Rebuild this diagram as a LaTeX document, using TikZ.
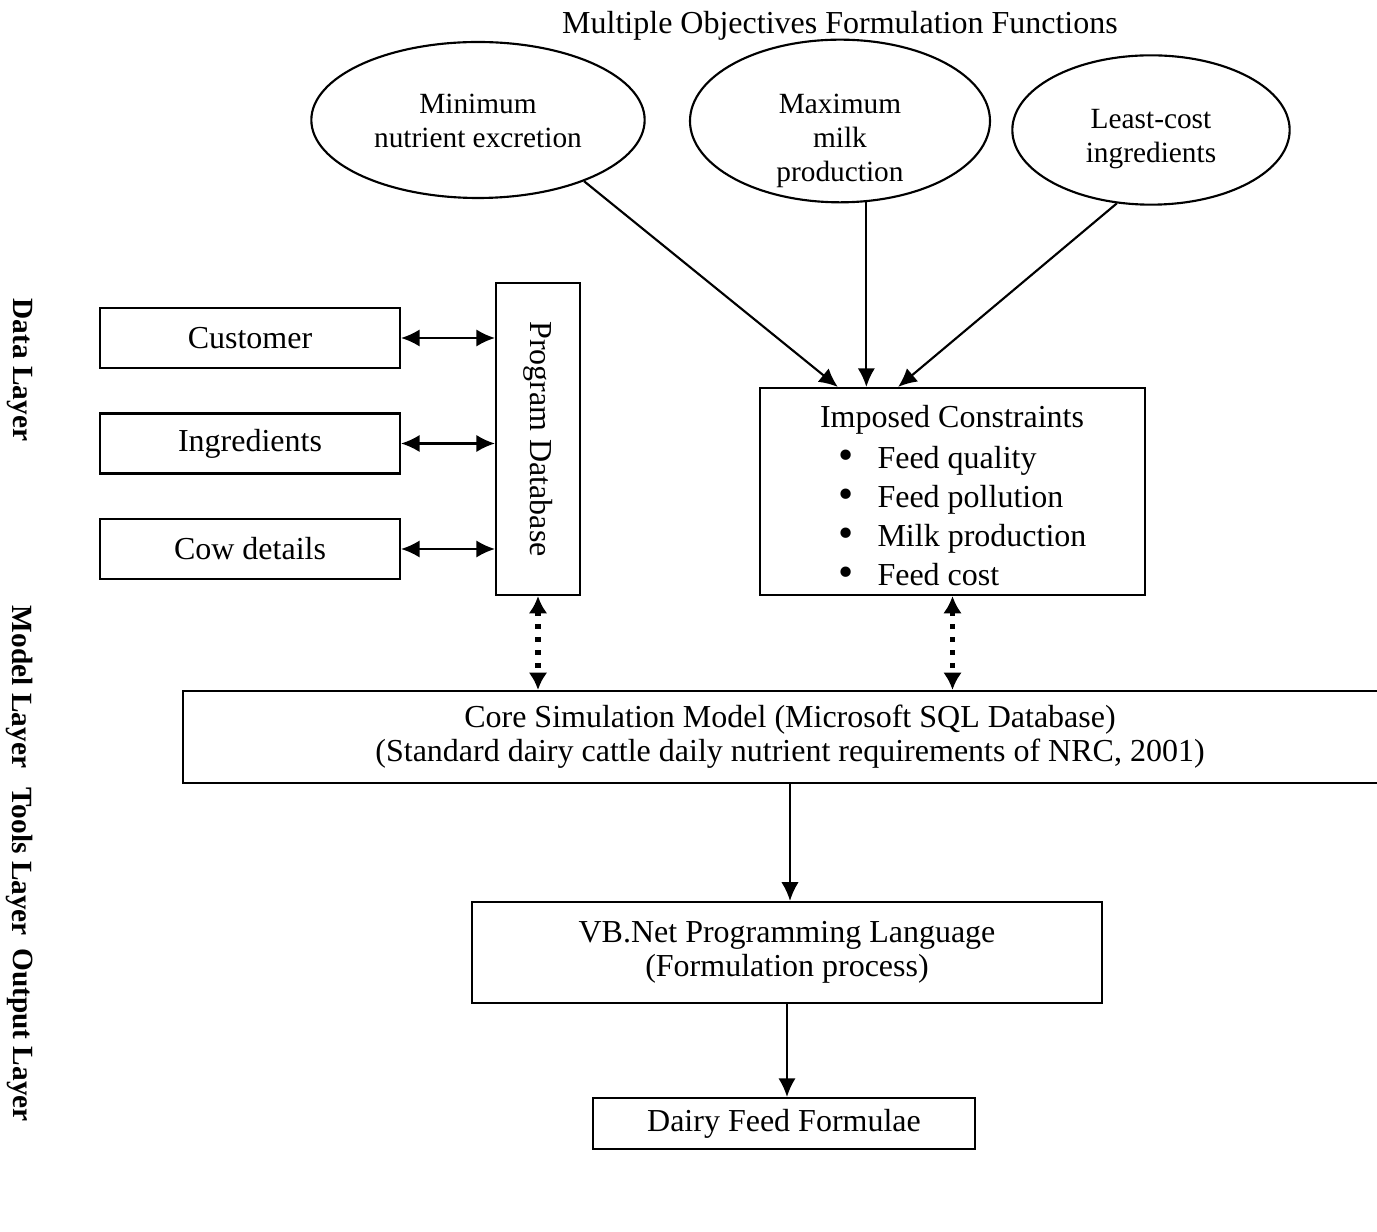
\documentclass[tikz,border=0pt]{standalone}
\usepackage{fontspec}
\setmainfont{Liberation Serif}
\usetikzlibrary{arrows.meta,shapes.geometric}
\newcommand{\ArrTip}{Latex[length=7pt,width=6.5pt]}
\newcommand{\DotTip}{Latex[length=6.5pt,width=7pt]}
\tikzset{blk/.style={draw,line width=.8pt,inner sep=0pt,align=center}}
\tikzset{obj/.style={draw,ellipse,line width=.8pt,inner sep=0pt}}
\tikzset{arr/.style={-{\ArrTip},line width=.8pt}}
\tikzset{darr/.style={{\ArrTip}-{\ArrTip},line width=.8pt}}
\tikzset{dotarr/.style={{\DotTip}-{\DotTip},line width=2pt,dash pattern=on 1.8pt off 3pt}}
\tikzset{item/.style={anchor=west,inner sep=0pt,text height=8.5pt,text depth=2.5pt}}
\tikzset{lyr/.style={inner sep=0pt,font=\fontsize{11}{13}\selectfont\bfseries}}
\newcommand{\bul}{\scalebox{1.35}{\textbullet}}

\begin{document}
\begin{tikzpicture}[x=0.375pt,y=-0.375pt,font=\fontsize{12}{12.75}\selectfont]
\useasboundingbox (0,0) rectangle (1377,1232);
\node(title)at(840,26){Multiple Objectives Formulation Functions};
% objective functions
\node(minexc)[obj,minimum width=125pt,minimum height=58.5pt]at(478,120){};
\node(maxmilk)[obj,minimum width=112.5pt,minimum height=61pt]at(840,121){};
\node(leastcost)[obj,minimum width=104pt,minimum height=56pt]at(1151,130){};
\begin{scope}[align=center,font=\fontsize{11}{12.75}\selectfont]
\node(minexctxt)at(478,121){Minimum\\nutrient excretion};
\node(maxmilktxt)at(840,141){Maximum\\milk\\production};
\node(leastcosttxt)at(1151,139){Least-cost\\ingredients};
\end{scope}
% constraints
\node(imp)[blk,minimum width=144.4pt,minimum height=77.6pt]at(952.5,491.5){};
\node(imptitle)at(952,420){Imposed Constraints};
\node(b1)at(846,460){\bul};\node(c1)[item]at(877,461){Feed quality};
\node(b2)at(846,499){\bul};\node(c2)[item]at(877,500){Feed pollution};
\node(b3)at(846,538){\bul};\node(c3)[item]at(877,539){Milk production};
\node(b4)at(846,577){\bul};\node(c4)[item]at(877,578){Feed cost};
\draw[arr](minexc.-30)--([xshift=-43pt]imp.north);
\draw[arr](maxmilk.-72)--(maxmilk.-72|-imp.north);
\draw[arr](leastcost.-115)--([xshift=-20.4pt]imp.north);
% data layer
\begin{scope}[minimum width=112.5pt,minimum height=22.5pt]
\node(cust)[blk]at(250,338){Customer};
\node(ingr)[blk]at(250,443.5){Ingredients};
\node(cow)[blk]at(250,549){Cow details};
\end{scope}
\node(db)[blk,minimum width=31.5pt,minimum height=117pt]at(538,439){\rotatebox{-90}{Program Database}};
\draw[darr](cust.east)--(cust.east-|db.west);
\draw[darr](ingr.east)--(ingr.east-|db.west);
\draw[darr](cow.east)--(cow.east-|db.west);
% model, tools, output
\node(core)[blk,minimum width=455pt,minimum height=34.5pt]at(790,737){Core Simulation Model (Microsoft SQL Database)\\(Standard dairy cattle daily nutrient requirements of NRC, 2001)};
\node(vb)[blk,minimum width=236.25pt,minimum height=37.9pt]at(787,952.5){VB.Net Programming Language\\(Formulation process)};
\node(dairy)[blk,minimum width=143.25pt,minimum height=19.1pt]at(784,1123.5){Dairy Feed Formulae};
\draw[dotarr](db.south)--(db.south|-core.north);
\draw[dotarr](imp.south)--(imp.south|-core.north);
\draw[arr](core.south)--(core.south|-vb.north);
\draw[arr](vb.south)--(vb.south|-dairy.north);
% layer labels
\begin{scope}[lyr]
\node(datalyr)at(20,370){\rotatebox{-90}{Data Layer}};
\node(modellyr)at(20,687){\rotatebox{-90}{Model Layer}};
\node(toolslyr)at(20,862){\rotatebox{-90}{Tools Layer}};
\node(outlyr)at(20,1035){\rotatebox{-90}{Output Layer}};
\end{scope}
\end{tikzpicture}
\end{document}
